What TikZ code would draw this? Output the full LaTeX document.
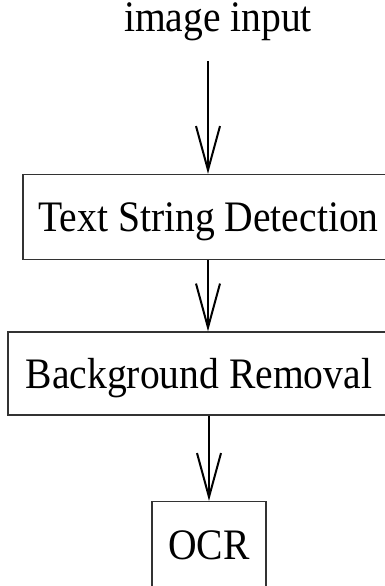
\documentclass[tikz,border=0pt]{standalone}
\usepackage{fontspec}
\setmainfont{Liberation Serif}[FakeStretch=0.91]
\usetikzlibrary{arrows.meta}

\begin{document}
\begin{tikzpicture}[x=1pt, y=1pt,
	label text/.style={font=\fontsize{43.5}{52}\selectfont},
	stage/.style={label text, draw=black!80, line width=1.3pt, inner sep=0pt,
		text height=29pt, text depth=0pt, minimum height=85pt},
	flow/.style={line width=2pt, -{Straight Barb[length=44pt, width=24pt, line width=2pt]}}]
	\useasboundingbox (0,0) rectangle (385,-586);
	\clip (0,0) rectangle (385,-586);
	% the three stages, boxes run past the right and bottom edges
	\node[label text, anchor=base] (input) at (218,-32) {image input};
	\node[stage, minimum width=371pt] (detect) at (208.5,-217) {Text String Detection};
	\node[stage, minimum width=382pt, minimum height=83pt] (removal) at (199,-373.5) {Background Removal};
	\node[stage, minimum width=114pt, minimum height=86pt] (ocr) at (209,-544.5) {OCR};
	\coordinate (start) at (208,-61);
	% arrows between the stages
	\draw[flow] (start) -- (start |- detect.north);
	\draw[flow] (start |- detect.south) -- (start |- removal.north);
	\draw[flow] (ocr.north |- removal.south) -- (ocr.north);
\end{tikzpicture}
\end{document}
